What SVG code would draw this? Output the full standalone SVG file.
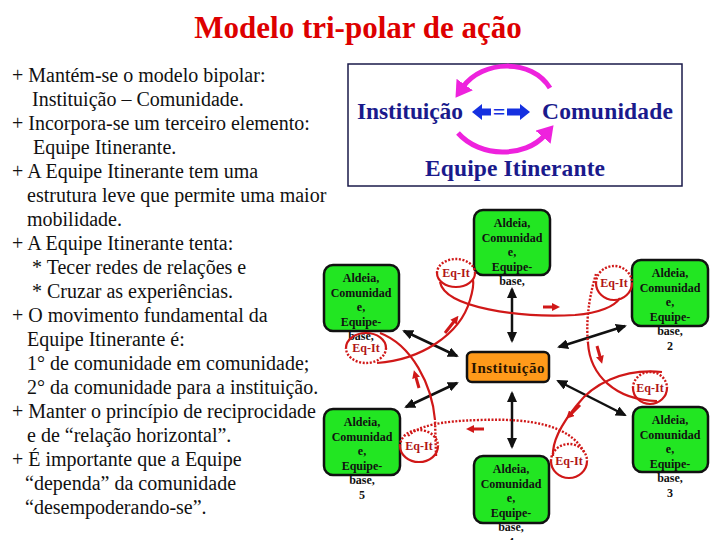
<svg xmlns="http://www.w3.org/2000/svg" width="720" height="540" viewBox="0 0 720 540">
<style>
.title{font-family:"Liberation Serif","Times New Roman",serif;font-weight:bold;font-size:31px;fill:#dd0000}
.body{font-family:"Liberation Serif","Times New Roman",serif;font-size:20px;fill:#111}
.boxt{font-family:"Liberation Serif","Times New Roman",serif;font-weight:bold;font-size:23.5px;fill:#1a1a8c}
.node rect{fill:#22e622;stroke:#111;stroke-width:2.5}
.nt{font-family:"Liberation Serif","Times New Roman",serif;font-weight:bold;font-size:12px;fill:#111;text-anchor:middle}
.inst rect{fill:#ff9a1a;stroke:#111;stroke-width:2.5}
.it{font-family:"Liberation Serif","Times New Roman",serif;font-weight:bold;font-size:15px;fill:#2a1500;text-anchor:middle;letter-spacing:0.5px}
.eq{font-family:"Liberation Serif","Times New Roman",serif;font-weight:bold;font-size:12px;fill:#b01515;text-anchor:middle}
.blk{stroke:#111;stroke-width:2.5;fill:none;marker-start:url(#bh);marker-end:url(#bh)}
.red{stroke:#d01818;stroke-width:2.2;fill:none}
.dot{stroke:#d01818;stroke-width:2.4;fill:none;stroke-dasharray:2 1.6}
.ra{stroke:#d01818;stroke-width:3;fill:none;marker-end:url(#rh)}
.mag{stroke:#ee22dd;stroke-width:5;fill:none;marker-end:url(#mh)}
</style>
<defs>
<marker id="bh" markerUnits="userSpaceOnUse" markerWidth="11" markerHeight="10" refX="9" refY="5" orient="auto-start-reverse"><path d="M0,0 L11,5 L0,10 z" fill="#111"/></marker>
<marker id="rh" markerUnits="userSpaceOnUse" markerWidth="8" markerHeight="8" refX="4" refY="4" orient="auto"><path d="M0,0 L8,4 L0,8 z" fill="#d01818"/></marker>
<marker id="mh" markerUnits="userSpaceOnUse" markerWidth="16" markerHeight="20" refX="3" refY="10" orient="auto"><path d="M0,0 L16,10 L0,20 z" fill="#ee22dd"/></marker>
</defs>
<rect width="720" height="540" fill="#fff"/>
<text class="title" x="358" y="38" text-anchor="middle">Modelo tri-polar de ação</text>

<g id="left-text" class="body">
<text x="12" y="82">+ Mantém-se o modelo bipolar:</text>
<text x="32" y="106">Instituição – Comunidade.</text>
<text x="12" y="130">+ Incorpora-se um terceiro elemento:</text>
<text x="33" y="154">Equipe Itinerante.</text>
<text x="12" y="178">+ A Equipe Itinerante tem uma</text>
<text x="27" y="202">estrutura leve que permite uma maior</text>
<text x="27" y="226">mobilidade.</text>
<text x="12" y="250">+ A Equipe Itinerante tenta:</text>
<text x="32" y="274">* Tecer redes de relações e</text>
<text x="32" y="298">* Cruzar as experiências.</text>
<text x="12" y="322">+ O movimento fundamental da</text>
<text x="27" y="346">Equipe Itinerante é:</text>
<text x="27" y="370">1° de comunidade em comunidade;</text>
<text x="27" y="394">2° da comunidade para a instituição.</text>
<text x="12" y="418">+ Manter o princípio de reciprocidade</text>
<text x="27" y="442">e de “relação horizontal”.</text>
<text x="12" y="466">+ É importante que a Equipe</text>
<text x="25" y="490">“dependa” da comunidade</text>
<text x="25" y="514">“desempoderando-se”.</text>
</g>

<g id="tripolar-box">
<rect x="348" y="64" width="334" height="122" fill="#fff" stroke="#1a1a4a" stroke-width="1.5"/>
<text class="boxt" x="357" y="119" textLength="106">Instituição</text>
<text class="boxt" x="542" y="119" textLength="131">Comunidade</text>
<text class="boxt" x="425" y="176" textLength="180">Equipe Itinerante</text>
<polygon points="472,112 482,104 482,108.5 491,108.5 491,115.5 482,115.5 482,120" fill="#1530e0"/>
<text x="499" y="119" text-anchor="middle" font-family="Liberation Serif, serif" font-weight="bold" font-size="22" fill="#1530e0">=</text>
<polygon points="530,112 520,104 520,108.5 507,108.5 507,115.5 520,115.5 520,120" fill="#1530e0"/>
<path class="mag" d="M550,88 C532,58 482,60 463,87"/>
<path class="mag" d="M458,133 C480,158 525,158 545,135"/>
</g>

<g id="connectors">
<path class="blk" d="M512,289 L512,341"/>
<path class="blk" d="M512,393 L512,447"/>
<path class="blk" d="M404,331 L457,356"/>
<path class="blk" d="M457,383 L406,407"/>
<path class="blk" d="M625,326 L559,347"/>
<path class="blk" d="M558,381 L625,415"/>

<path class="red" d="M440,282 C445,308 520,318 575,315 C600,313 615,306 620,298"/>
<path class="dot" d="M596,274 C588,300 586,325 588,343"/>
<path class="red" d="M588,343 C590,375 615,400 657,401"/>
<path class="red" d="M662,372 C622,368 592,385 577,405 C563,422 552,440 553,456"/>
<path class="dot" d="M584,452 C570,425 530,418 480,420 C440,421 418,426 408,436"/>
<path class="dot" d="M436,456 L435,420"/>
<path class="red" d="M435,420 C432,385 412,345 380,333"/>
<path class="red" d="M377,363 C420,360 460,335 470,300 C473,290 474,285 473,280"/>

<path class="ra" d="M543,307 L556,307"/>
<path class="ra" d="M597,346 L601,360"/>
<path class="ra" d="M580,405 L569,416"/>
<path class="ra" d="M484,429 L470,429"/>
<path class="ra" d="M419,388 L415,374"/>
<path class="ra" d="M445,333 L456,319"/>
</g>

<g id="node-comunidade-1" class="node">
<rect x="474" y="210" width="76" height="65" rx="9"/>
<text class="nt" x="512" y="227">Aldeia,</text>
<text class="nt" x="512" y="241.5">Comunidad</text>
<text class="nt" x="512" y="256">e,</text>
<text class="nt" x="512" y="270.5">Equipe-</text>
<text class="nt" x="512" y="285">base,</text>
</g>
<g id="node-comunidade-2" class="node">
<rect x="632" y="260" width="76" height="66" rx="9"/>
<text class="nt" x="670" y="277">Aldeia,</text>
<text class="nt" x="670" y="291.5">Comunidad</text>
<text class="nt" x="670" y="306">e,</text>
<text class="nt" x="670" y="320.5">Equipe-</text>
<text class="nt" x="670" y="335">base,</text>
<text class="nt" x="670" y="349.5">2</text>
</g>
<g id="node-comunidade-3" class="node">
<rect x="633" y="407" width="75" height="65" rx="9"/>
<text class="nt" x="670" y="424">Aldeia,</text>
<text class="nt" x="670" y="438.5">Comunidad</text>
<text class="nt" x="670" y="453">e,</text>
<text class="nt" x="670" y="467.5">Equipe-</text>
<text class="nt" x="670" y="482">base,</text>
<text class="nt" x="670" y="496.5">3</text>
</g>
<g id="node-comunidade-4" class="node">
<rect x="474" y="456" width="75" height="67" rx="9"/>
<text class="nt" x="511" y="473">Aldeia,</text>
<text class="nt" x="511" y="487.5">Comunidad</text>
<text class="nt" x="511" y="502">e,</text>
<text class="nt" x="511" y="516.5">Equipe-</text>
<text class="nt" x="511" y="531">base,</text>
<text class="nt" x="511" y="545.5">4</text>
</g>
<g id="node-comunidade-5" class="node">
<rect x="324" y="409" width="76" height="66" rx="9"/>
<text class="nt" x="362" y="426">Aldeia,</text>
<text class="nt" x="362" y="440.5">Comunidad</text>
<text class="nt" x="362" y="455">e,</text>
<text class="nt" x="362" y="469.5">Equipe-</text>
<text class="nt" x="362" y="484">base,</text>
<text class="nt" x="362" y="498.5">5</text>
</g>
<g id="node-comunidade-6" class="node">
<rect x="324" y="265" width="75" height="66" rx="9"/>
<text class="nt" x="361" y="282">Aldeia,</text>
<text class="nt" x="361" y="296.5">Comunidad</text>
<text class="nt" x="361" y="311">e,</text>
<text class="nt" x="361" y="325.5">Equipe-</text>
<text class="nt" x="361" y="340">base,</text>
</g>

<g id="node-instituicao" class="inst">
<rect x="467" y="352" width="82" height="30" rx="5"/>
<text class="it" x="508" y="373">Instituição</text>
</g>

<g id="eqit-1">
<path class="dot" d="M437,273 A19,14 0 0 1 475,273"/>
<path class="red" d="M475,273 A19,14 0 0 1 437,273"/>
<text class="eq" x="456" y="277">Eq-It</text>
</g>
<g id="eqit-2">
<path class="dot" d="M596,283 A18,17 0 0 1 632,283"/>
<path class="red" d="M632,283 A18,17 0 0 1 596,283"/>
<text class="eq" x="614" y="287">Eq-It</text>
</g>
<g id="eqit-3">
<path class="dot" d="M633,388 A17,16 0 0 1 667,388"/>
<path class="red" d="M667,388 A17,16 0 0 1 633,388"/>
<text class="eq" x="650" y="392">Eq-It</text>
</g>
<g id="eqit-4">
<path class="dot" d="M551,461 A18,17 0 0 1 587,461"/>
<path class="red" d="M587,461 A18,17 0 0 1 551,461"/>
<text class="eq" x="569" y="465">Eq-It</text>
</g>
<g id="eqit-5">
<path class="dot" d="M400,446 A19,16 0 0 1 438,446"/>
<path class="red" d="M438,446 A19,16 0 0 1 400,446"/>
<text class="eq" x="419" y="450">Eq-It</text>
</g>
<g id="eqit-6">
<path class="red" d="M346,348 A20,15 0 0 1 386,348"/>
<path class="dot" d="M386,348 A20,15 0 0 1 346,348"/>
<text class="eq" x="366" y="352">Eq-It</text>
</g>
</svg>
